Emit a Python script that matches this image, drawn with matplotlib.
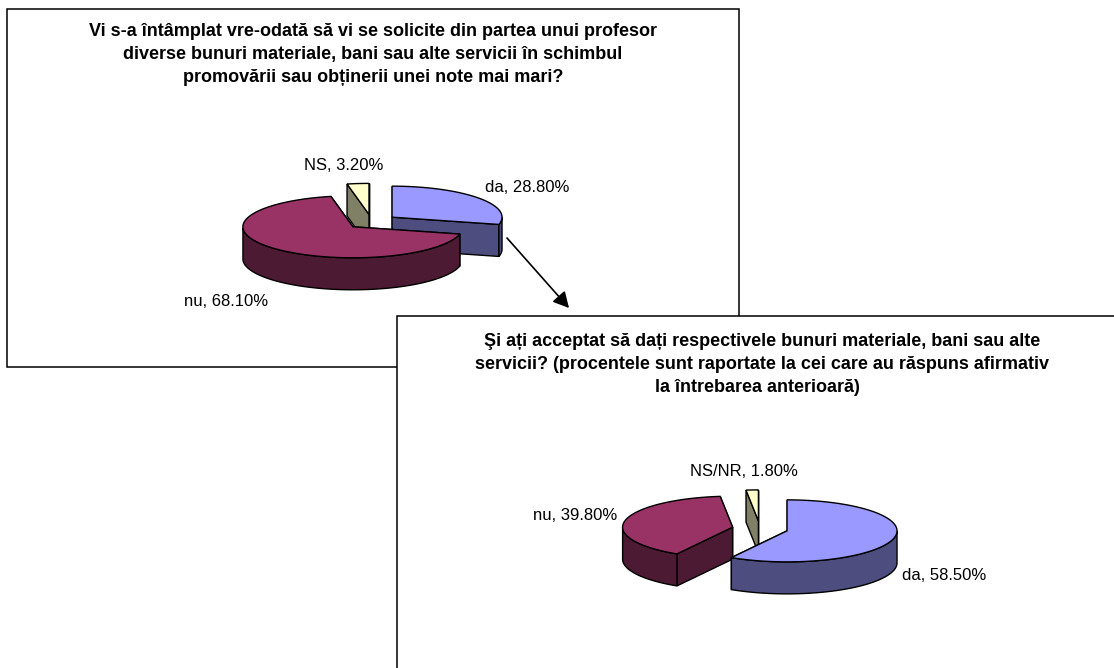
import numpy as np
import matplotlib
matplotlib.use('Agg')
import matplotlib.pyplot as plt
from matplotlib.patches import Polygon, Rectangle

plt.rcParams['font.family'] = ['Liberation Sans', 'DejaVu Sans']

W, H = 1114, 668

# datos
titulo1 = ['Vi s-a întâmplat vre-odată să vi se solicite din partea unui profesor',
           'diverse bunuri materiale, bani sau alte servicii în schimbul',
           'promovării sau obținerii unei note mai mari?']
categorias1 = ['da', 'nu', 'NS']
valores1 = [28.8, 68.1, 3.2]

titulo2 = ['Şi ați acceptat să dați respectivele bunuri materiale, bani sau alte',
           'servicii? (procentele sunt raportate la cei care au răspuns afirmativ',
           'la întrebarea anterioară)']
categorias2 = ['da', 'nu', 'NS/NR']
valores2 = [58.5, 39.8, 1.8]

COL_TOP = ['#9999FF', '#993366', '#FFFFCC']
COL_LADO = ['#4D4D80', '#4D1A33', '#808066']
FS_TIT = 13
FS_ETQ = 12


def rim(cx, cy, a, b, t):
    t = np.radians(t)
    return np.column_stack([cx + a * np.sin(t), cy - b * np.cos(t)])


def pie3d(ax, valores, centro, a=110, b=31, depth=32, expl=27, z0=2):
    tot = sum(valores)
    angs = np.concatenate([[0], np.cumsum(valores) / tot * 360])
    k = b / a
    # de atras hacia adelante
    orden = sorted(range(len(valores)),
                   key=lambda i: -np.cos(np.radians((angs[i] + angs[i + 1]) / 2)))
    z = np.array([[0, depth]])
    for n, i in enumerate(orden):
        t0, t1 = angs[i], angs[i + 1]
        m = np.radians((t0 + t1) / 2)
        cx = centro[0] + expl * np.sin(m)
        cy = centro[1] - expl * k * np.cos(m)
        ts = np.linspace(t0, t1, 120)
        arco = rim(cx, cy, a, b, ts)
        ap = np.array([[cx, cy]])
        zo = z0 + n * 0.1
        # caras radiales, la de atras primero
        caras = sorted((t0, t1), key=lambda t: rim(cx, cy, a, b, t)[0, 1])
        for t in caras:
            p = rim(cx, cy, a, b, t)
            ax.add_patch(Polygon(np.vstack([ap, p, p + z, ap + z]), fc=COL_LADO[i], ec='k', lw=1, zorder=zo))
        # pared exterior: solo la parte delantera del arco
        front = (ts >= 90) & (ts <= 270)
        if front.any():
            ar = arco[front]
            ax.add_patch(Polygon(np.vstack([ar, (ar + z)[::-1]]), fc=COL_LADO[i], ec='k', lw=1, zorder=zo))
        ax.add_patch(Polygon(np.vstack([ap, arco]), fc=COL_TOP[i], ec='k', lw=1, zorder=zo))


fig = plt.figure(figsize=(W / 100, H / 100), dpi=100)
ax = fig.add_axes([0, 0, 1, 1])
ax.set_xlim(0, W); ax.set_ylim(H, 0); ax.axis('off')

# recuadro 1
ax.add_patch(Rectangle((7, 9), 732, 358, fc='white', ec='k', lw=1.1, zorder=1))
for i, ln in enumerate(titulo1):
    ax.text(373, 31 + i * 23, ln, ha='center', va='center', fontsize=FS_TIT, fontweight='bold', zorder=3)
pie3d(ax, valores1, (371.6, 221.7), expl=26)
etq1 = [(485, 187), (184, 301), (304, 166)]
for (x, y), c, v in zip(etq1, categorias1, valores1):
    ax.text(x, y, f'{c}, {v:.2f}%', ha='left', va='center', fontsize=FS_ETQ, zorder=3)

# flecha
ax.annotate('', xy=(569, 308), xytext=(507, 238),
            arrowprops=dict(arrowstyle='-|>,head_length=0.95,head_width=0.5', color='k', lw=1.2,
                            shrinkA=0, shrinkB=0), zorder=6)

# recuadro 2
ax.add_patch(Rectangle((396.5, 316), 800, 500, fc='white', ec='k', lw=1.1, zorder=5))
for i, (ln, xc) in enumerate(zip(titulo2, [762, 762, 757])):
    ax.text(xc, 341 + i * 23.5, ln, ha='center', va='center', fontsize=FS_TIT, fontweight='bold', zorder=7)

pie3d(ax, valores2, (760, 528.8), expl=28, z0=7)
etq2 = [(902, 575), (533, 516), (690, 471)]
for (x, y), c, v in zip(etq2, categorias2, valores2):
    ax.text(x, y, f'{c}, {v:.2f}%', ha='left', va='center', fontsize=FS_ETQ, zorder=8)

fig.savefig('out.png', dpi=100)
